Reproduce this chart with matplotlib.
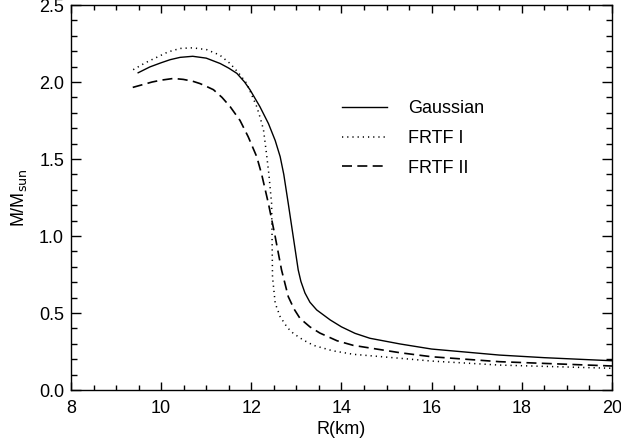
import matplotlib.pyplot as plt
from matplotlib.ticker import MultipleLocator

# Mass-radius curves (R in km, M in solar masses)
r_gauss = [9.49, 9.75, 10.0, 10.2, 10.42, 10.7, 11.0, 11.31, 11.5, 11.68, 11.85, 11.97, 12.19,
           12.38, 12.53, 12.64, 12.72, 12.82, 12.93, 13.04, 13.1, 13.19, 13.3, 13.45, 13.75,
           14.0, 14.3, 14.63, 15.3, 16.0, 17.0, 17.5, 18.5, 20.0]
m_gauss = [2.06, 2.098, 2.125, 2.145, 2.16, 2.167, 2.155, 2.12, 2.09, 2.056, 2.0, 1.95, 1.84,
           1.73, 1.62, 1.515, 1.40, 1.21, 0.995, 0.78, 0.705, 0.63, 0.57, 0.52, 0.455,
           0.41, 0.368, 0.336, 0.299, 0.266, 0.24, 0.227, 0.21, 0.19]

r_frtf1 = [9.38, 9.65, 9.9, 10.15, 10.42, 10.7, 11.01, 11.3, 11.53, 11.72, 11.9, 12.12, 12.2,
           12.27, 12.33, 12.39, 12.45, 12.46, 12.47, 12.53, 12.64, 12.8, 12.93, 13.15, 13.38,
           13.8, 14.26, 15.3, 16.0, 17.5, 20.0]
m_frtf1 = [2.08, 2.125, 2.16, 2.195, 2.218, 2.222, 2.21, 2.175, 2.12, 2.058, 1.99, 1.84, 1.765,
           1.69, 1.55, 1.40, 1.21, 0.995, 0.735, 0.563, 0.476, 0.405, 0.368, 0.325, 0.29,
           0.255, 0.232, 0.206, 0.188, 0.162, 0.141]

r_frtf2 = [9.37, 9.8, 10.0, 10.27, 10.49, 10.7, 10.86, 11.0, 11.16, 11.35, 11.53, 11.75, 11.93,
           12.12, 12.23, 12.38, 12.53, 12.67, 12.82, 12.95, 13.08, 13.3, 13.52, 13.9, 14.26,
           15.3, 16.0, 17.5, 20.0]
m_frtf2 = [1.965, 2.0, 2.012, 2.023, 2.017, 2.005, 1.99, 1.972, 1.95, 1.90, 1.84, 1.75, 1.645,
           1.515, 1.40, 1.21, 0.995, 0.78, 0.606, 0.525, 0.465, 0.41, 0.37, 0.32, 0.29,
           0.242, 0.216, 0.184, 0.156]

plt.rcParams['font.family'] = ['Liberation Sans', 'DejaVu Sans']
plt.rcParams['font.size'] = 13

fig = plt.figure(figsize=(6.21, 4.43), dpi=100)
ax = fig.add_axes([0.1143, 0.1196, 0.8712, 0.8691])

ax.plot(r_gauss, m_gauss, color='black', lw=1.0, label='Gaussian')
ax.plot(r_frtf1, m_frtf1, color='black', lw=1.1, dashes=(0.8, 2.6), label='FRTF I')
ax.plot(r_frtf2, m_frtf2, color='black', lw=1.2, dashes=(6, 3.2), label='FRTF II')

ax.set_xlim(8, 20)
ax.set_ylim(0, 2.5)
ax.xaxis.set_major_locator(MultipleLocator(2))
ax.xaxis.set_minor_locator(MultipleLocator(0.5))
ax.yaxis.set_major_locator(MultipleLocator(0.5))
ax.yaxis.set_minor_locator(MultipleLocator(0.1))
ax.yaxis.set_major_formatter(plt.FormatStrFormatter('%.1f'))

ax.tick_params(which='both', direction='in', top=True, right=True, width=1.0)
ax.tick_params(axis='x', which='major', length=6, pad=7)
ax.tick_params(axis='x', which='minor', length=3.5)
ax.tick_params(axis='y', which='major', length=7.5, pad=5)
ax.tick_params(axis='y', which='minor', length=4)
for sp in ax.spines.values():
    sp.set_linewidth(1.0)

ax.set_xlabel('R(km)', labelpad=3)
ax.set_ylabel(r'M/M$_{\rm sun}$', labelpad=7)

# top label sits below the frame edge like the original
fig.canvas.draw()
ax.get_yticklabels()[-1].set_va('top')

ax.legend(loc='upper left', bbox_to_anchor=(0.501, 0.752), frameon=False,
          borderpad=0, borderaxespad=0, handlelength=2.5, handletextpad=1.15,
          labelspacing=0.7)

fig.savefig('out.png', dpi=100)
